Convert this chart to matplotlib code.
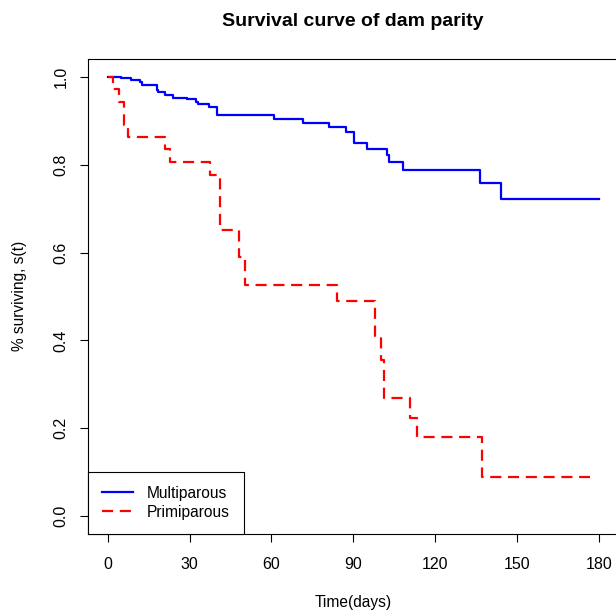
import matplotlib
matplotlib.use('Agg')

import matplotlib.pyplot as plt

# Kaplan-Meier steps (days, survival)
multi_days = [0, 4.8, 8.7, 11.7, 12.7, 17.9, 18.5, 20.9, 24.0, 28.9, 32.3, 33.1,
              37.0, 39.9, 61.0, 71.6, 81.2, 87.3, 90.2, 95.1, 102.4, 103.0,
              108.3, 136.4, 144.1, 180.0]
multi_surv = [1.0, 0.997, 0.993, 0.989, 0.982, 0.970, 0.965, 0.960, 0.953, 0.949,
              0.944, 0.938, 0.932, 0.913, 0.904, 0.895, 0.885, 0.875, 0.849,
              0.835, 0.822, 0.807, 0.789, 0.759, 0.723, 0.723]

primi_days = [0, 1.9, 4.2, 5.9, 7.4, 20.9, 22.7, 37.4, 41.1, 48.1, 50.5, 84.1,
              97.9, 100.0, 101.2, 110.7, 113.2, 137.0, 176.7]
primi_surv = [1.0, 0.972, 0.944, 0.890, 0.864, 0.835, 0.806, 0.776, 0.651, 0.589,
              0.527, 0.489, 0.41, 0.355, 0.268, 0.223, 0.179, 0.089, 0.089]

x_ticks = [0, 30, 60, 90, 120, 150, 180]
y_ticks = [0.0, 0.2, 0.4, 0.6, 0.8, 1.0]

plt.rcParams['font.family'] = ['Liberation Sans', 'DejaVu Sans']

fig = plt.figure(figsize=(6.16, 6.13), dpi=100)
# the original R plot is cropped on the right, so the axes run off the canvas
ax = fig.add_axes([0.1429, 0.1295, 0.8612, 0.7736])

ax.step(multi_days, multi_surv, where='post', color='#0000ff', lw=1.6,
        label='Multiparous')
ax.step(primi_days, primi_surv, where='post', color='#ff0000', lw=1.6,
        dashes=(5, 3), label='Primiparous')

ax.set_xlim(-7.2, 187.2)
ax.set_ylim(-0.04, 1.04)
ax.set_xticks(x_ticks)
ax.set_xticklabels([str(t) for t in x_ticks])
ax.set_yticks(y_ticks)
ax.set_yticklabels(['%.1f' % v for v in y_ticks])

for sp in ax.spines.values():
    sp.set_linewidth(0.8)
    sp.set_color('black')
ax.tick_params(length=6, width=0.8, labelsize=11.5, color='black')
ax.tick_params(axis='x', pad=11)
ax.tick_params(axis='y', labelrotation=90, pad=8)
for lab in ax.get_yticklabels():
    lab.set_va('center')

leg = ax.legend(loc='lower left', borderaxespad=0, fancybox=False,
                edgecolor='black', framealpha=1, fontsize=11.2,
                handlelength=2.0, handletextpad=0.9, borderpad=0.9,
                labelspacing=0.25)
leg.get_frame().set_linewidth(0.8)

fig.text(353 / 616, 1 - 22 / 613, 'Survival curve of dam parity',
         ha='center', va='center', fontsize=14, fontweight='bold')
fig.text(353 / 616, 1 - 603 / 613, 'Time(days)', ha='center', va='center',
         fontsize=11.2)
fig.text(20 / 616, 1 - 296 / 613, '% surviving, s(t)', ha='center',
         va='center', rotation=90, fontsize=11.2)

fig.savefig('out.png', dpi=100)
plt.close(fig)
